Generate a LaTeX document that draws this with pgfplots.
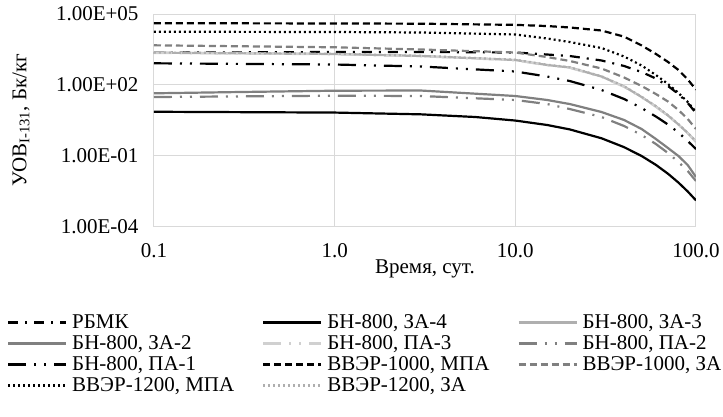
\documentclass[border=0pt]{standalone}
\usepackage{fontspec}
\setmainfont{Liberation Serif}
\usepackage{pgfplots}
\pgfplotsset{compat=1.18}
\definecolor{gridc}{RGB}{217,217,217}
\definecolor{dgray}{RGB}{128,128,128}
\definecolor{lgray}{RGB}{175,175,175}
\definecolor{llgray}{RGB}{208,208,208}
\newcommand{\lbox}[1]{\makebox[190pt][l]{#1}}
\begin{document}
\begin{tikzpicture}
\begin{axis}[name=ax, scale only axis, width=542pt, height=212.7pt,
  xmode=log, ymode=log, xmin=0.1, xmax=100, ymin=1e-4, ymax=1e5,
  xtick={0.1,1,10,100}, xticklabels={0.1,1.0,10.0,100.0},
  ytick={1e-4,1e-1,1e2,1e5}, yticklabels={1.00E-04,1.00E-01,1.00E+02,1.00E+05},
  xminorticks=false, yminorticks=false,
  major tick length=0pt,
  grid=major, major grid style={draw=gridc, line width=1pt},
  axis line style={draw=gridc, line width=1pt},
  /pgf/number format/assume math mode=true,
  tick label style={font=\fontsize{21}{25}\selectfont},
  xticklabel style={yshift=-13pt},
  yticklabel style={xshift=-12pt},
  xlabel={Время, сут.},
  ylabel={УОВ\textsubscript{I-131}, Бк/кг},
  every axis x label/.style={at={(axis description cs:0.5,-0.20)}, anchor=center, font=\fontsize{21}{25}\selectfont},
  every axis y label/.style={at={(axis description cs:-0.2454,0.5)}, anchor=center, rotate=90, font=\fontsize{21}{25}\selectfont},
  legend columns=3,
  legend cell align=left,
  legend style={at={(axis description cs:-0.2712,-0.4057)}, anchor=north west,
    draw=none, fill=none, inner sep=0pt, outer sep=0pt, row sep=2pt, column sep=0pt,
    font=\fontsize{21}{25}\selectfont,
    nodes={inner sep=0pt, anchor=west, text height=16pt, text depth=3pt},
    /tikz/every odd column/.append style={column sep=5pt}},
  legend image code/.code={\draw[#1] (0pt,0pt) -- (58pt,0pt);},
  every axis plot/.append style={line width=2.2pt, mark=none},
]
% РБМК
\addplot[black, dash pattern=on 10pt off 7pt on 2pt off 7pt] coordinates {
 (0.1,2300)(1,2470)(3,2470)(10,2350)(15,1930)(20,1670)(30,1080)(40,630)(50,351)(60,186)(70,89.8)(80,41.1)(90,17.1)(100,6.46)};
\addlegendentry{\lbox{РБМК}}
% БН-800, ЗА-4
\addplot[black] coordinates {
 (0.1,7.30)(1,6.75)(3,5.68)(6,4.38)(10,3.10)(15,2.01)(20,1.31)(30,0.551)(40,0.232)(50,0.0980)(60,0.0413)(70,0.0174)(80,0.00733)(90,0.00309)(100,0.00130)};
\addlegendentry{\lbox{БН-800, ЗА-4}}
% БН-800, ЗА-3
\addplot[lgray] coordinates {
 (0.1,2300)(1,2030)(3,1670)(10,1130)(15,695)(20,545)(30,226)(40,85.5)(50,30.7)(60,12.2)(70,5.06)(80,2.11)(90,0.920)(100,0.394)};
\addlegendentry{БН-800, ЗА-3}
% БН-800, ЗА-2
\addplot[dgray] coordinates {
 (0.1,44.1)(0.3,50.0)(1,56.8)(3,57.8)(10,33.9)(15,23.0)(20,15.5)(30,7.13)(40,3.27)(50,1.36)(60,0.513)(70,0.213)(80,0.0977)(90,0.0406)(100,0.0126)};
\addlegendentry{\lbox{БН-800, ЗА-2}}
% БН-800, ПА-3
\addplot[llgray, dash pattern=on 18pt off 8pt on 2pt off 8pt on 2pt off 8pt] coordinates {
 (0.1,2250)(1,1980)(3,1630)(10,1100)(15,675)(20,530)(30,218)(40,82.5)(50,29.6)(60,11.8)(70,4.90)(80,2.04)(90,0.890)(100,0.381)};
\addlegendentry{\lbox{БН-800, ПА-3}}
% БН-800, ПА-2
\addplot[dgray, dash pattern=on 18pt off 8pt on 2pt off 8pt on 2pt off 8pt] coordinates {
 (0.1,30.7)(1,34.9)(3,33.9)(10,23.0)(15,15.5)(20,9.55)(30,4.38)(40,1.82)(50,0.757)(60,0.315)(70,0.131)(80,0.0546)(90,0.0227)(100,0.00857)};
\addlegendentry{БН-800, ПА-2}
% БН-800, ПА-1
\addplot[black, dash pattern=on 18pt off 8pt on 2pt off 8pt on 2pt off 8pt] coordinates {
 (0.1,820)(1,729)(3,600)(10,369)(15,226)(20,146)(30,60.8)(40,25.3)(50,10.5)(60,4.59)(70,2.11)(80,0.966)(90,0.421)(100,0.194)};
\addlegendentry{\lbox{БН-800, ПА-1}}
% ВВЭР-1000, МПА
\addplot[black, dash pattern=on 7pt off 4pt] coordinates {
 (0.1,40700)(1,39800)(3,38900)(10,34700)(15,30900)(20,26900)(30,20000)(40,11000)(50,4680)(60,2040)(70,933)(80,427)(90,170)(100,63.1)};
\addlegendentry{\lbox{ВВЭР-1000, МПА}}
% ВВЭР-1000, ЗА
\addplot[dgray, dash pattern=on 7pt off 4pt] coordinates {
 (0.1,4730)(1,3900)(3,3150)(10,2350)(15,1510)(20,1030)(30,494)(40,206)(50,89.8)(60,41.1)(70,19.8)(80,8.65)(90,3.60)(100,1.36)};
\addlegendentry{ВВЭР-1000, ЗА}
% ВВЭР-1200, МПА
\addplot[black, dash pattern=on 2pt off 3pt] coordinates {
 (0.1,17800)(1,17300)(3,16500)(10,13600)(15,9180)(20,6530)(30,3640)(40,1590)(50,662)(60,262)(70,109)(80,45.4)(90,18.9)(100,7.13)};
\addlegendentry{\lbox{ВВЭР-1200, МПА}}
% ВВЭР-1200, ЗА
\addplot[lgray, dash pattern=on 2pt off 3pt] coordinates {
 (0.1,2350)(1,2080)(3,1710)(10,1160)(15,715)(20,560)(30,232)(40,88.0)(50,31.6)(60,12.6)(70,5.21)(80,2.17)(90,0.948)(100,0.406)};
\addlegendentry{\lbox{ВВЭР-1200, ЗА}}
\end{axis}
\pgfresetboundingbox
\path ([shift={(-154pt,226.7pt)}]ax.south west) rectangle ([shift={(569pt,-190.3pt)}]ax.south west);
\end{tikzpicture}
\end{document}
